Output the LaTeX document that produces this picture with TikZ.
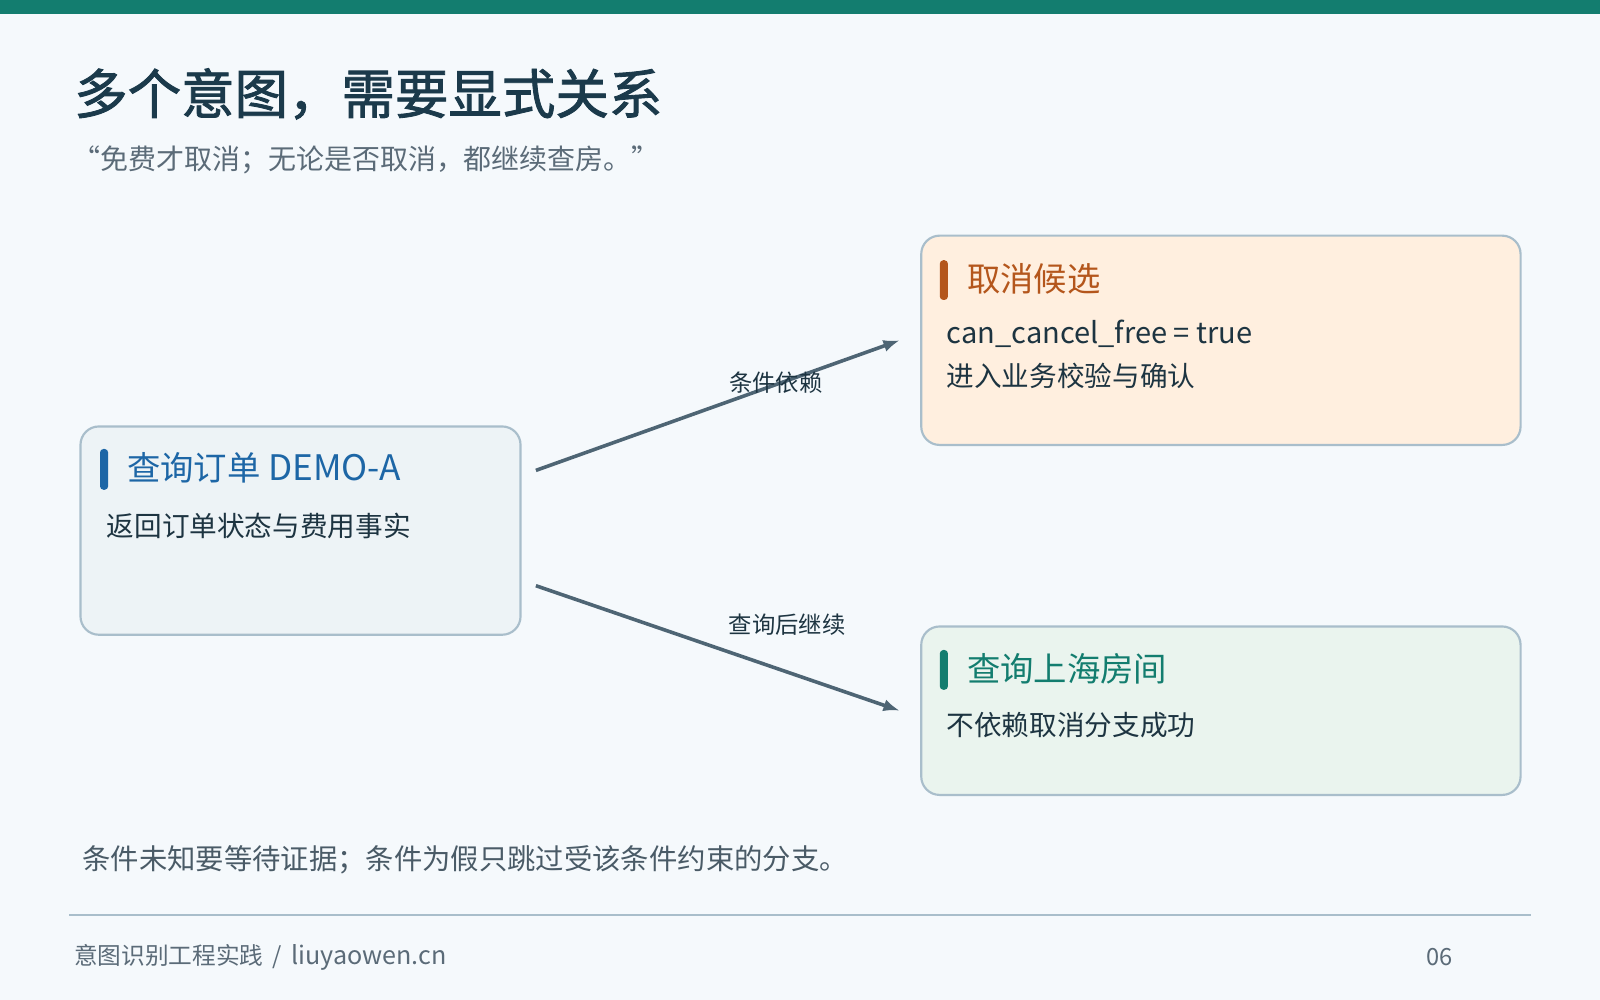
\documentclass[tikz,border=0pt]{standalone}
\usepackage{fontspec}
\setmainfont{Noto Sans CJK SC}
\newfontfamily\ttlfont[FakeBold=1.6]{Noto Sans CJK SC}
\usetikzlibrary{arrows.meta,calc}
\definecolor{bg}{HTML}{F5F9FC}
\definecolor{topbar}{HTML}{137D6F}
\definecolor{titlec}{HTML}{1B3A4B}
\definecolor{subc}{HTML}{5B6B78}
\definecolor{bord}{HTML}{A9BECB}
\definecolor{fone}{HTML}{EDF3F6}
\definecolor{ftwo}{HTML}{FFEFDF}
\definecolor{fthree}{HTML}{EAF4EE}
\definecolor{blueone}{HTML}{1D66A6}
\definecolor{orangeone}{HTML}{B4561C}
\definecolor{tealone}{HTML}{137D6F}
\definecolor{arrc}{HTML}{4E6574}
\definecolor{textc}{HTML}{1D3441}
\definecolor{notec}{HTML}{4A5B67}
\begin{document}
\begin{tikzpicture}[x=0.01cm,y=-0.01cm,
  card/.style={draw=bord,line width=0.6pt,rounded corners=0.18cm,inner sep=0,minimum width=5.87cm},
  cardtitle/.style={anchor=west,inner sep=0,font=\fontsize{9.3pt}{11pt}\selectfont},
  cardbody/.style={anchor=west,inner sep=0,text=textc,font=\fontsize{7.7pt}{9pt}\selectfont},
  lab/.style={inner sep=0,text=textc,font=\fontsize{6.5pt}{8pt}\selectfont},
  arr/.style={draw=arrc,line width=1pt,-{Latex[length=0.16cm,width=0.12cm]}}]
\fill[bg] (0,0) rectangle (1568,980);
\useasboundingbox (0,0) rectangle (1568,980);
\fill[topbar] (0,0) rectangle (1568,14);
% title
\node[anchor=west,inner sep=0,text=titlec,font=\fontsize{14.9pt}{17pt}\ttlfont] (title) at (72,92) {多个意图，需要显式关系};
\node[anchor=west,inner sep=0,text=subc,font=\fontsize{7.8pt}{9pt}\selectfont] (sub) at (70,157) {“免费才取消；无论是否取消，都继续查房。”};
% cards
\node[card,fill=fone,minimum width=4.31cm,minimum height=2.04cm] (b1) at (294.5,520) {};
\node[card,fill=ftwo,minimum height=2.05cm] (b2) at (1196.5,333.5) {};
\node[card,fill=fthree,minimum height=1.65cm] (b3) at (1196.5,696.5) {};
% accent bars
\fill[blueone,rounded corners=0.035cm] (98,440) rectangle (106,480);
\fill[orangeone,rounded corners=0.035cm] (921,255) rectangle (929,294);
\fill[tealone,rounded corners=0.035cm] (921,637) rectangle (929,676);
% card texts
\node[cardtitle,text=blueone] (t1) at (124,458) {查询订单 {\fontsize{9.8pt}{11pt}\selectfont DEMO-A}};
\node[cardbody] (d1) at (104,515) {返回订单状态与费用事实};
\node[cardtitle,text=orangeone] (t2) at (947,273) {取消候选};
\node[cardbody] (d2a) at (927,327) {{\fontsize{8.1pt}{9pt}\selectfont can\_cancel\_free = true}};
\node[cardbody] (d2b) at (927,368) {进入业务校验与确认};
\node[cardtitle,text=tealone] (t3) at (947,655) {查询上海房间};
\node[cardbody] (d3) at (927,711) {不依赖取消分支成功};
% connectors
\draw[arr] ([shift={(14,-59)}]b1.east) -- node[lab,midway,shift={(57,-22)}] (l1) {条件依赖} ([shift={(-20,0)}]b2.west);
\draw[arr] ([shift={(14,54)}]b1.east) -- node[lab,midway,shift={(68,-23)}] (l2) {查询后继续} ([shift={(-20,0)}]b3.west);
% note and footer
\node[anchor=west,inner sep=0,text=notec,font=\fontsize{7.9pt}{9pt}\selectfont] (note) at (80,843) {条件未知要等待证据；条件为假只跳过受该条件约束的分支。};
\draw[bord,line width=0.02cm] (68,897) -- (1500,897);
\node[anchor=west,inner sep=0,text=subc,font=\fontsize{6.6pt}{8pt}\selectfont] (foot) at (72,938) {意图识别工程实践 \,/\, {\fontsize{7pt}{8pt}\selectfont liuyaowen.cn}};
\node[anchor=west,inner sep=0,text=subc,font=\fontsize{6.6pt}{8pt}\selectfont] (page) at (1397,938) {06};
\end{tikzpicture}
\end{document}
